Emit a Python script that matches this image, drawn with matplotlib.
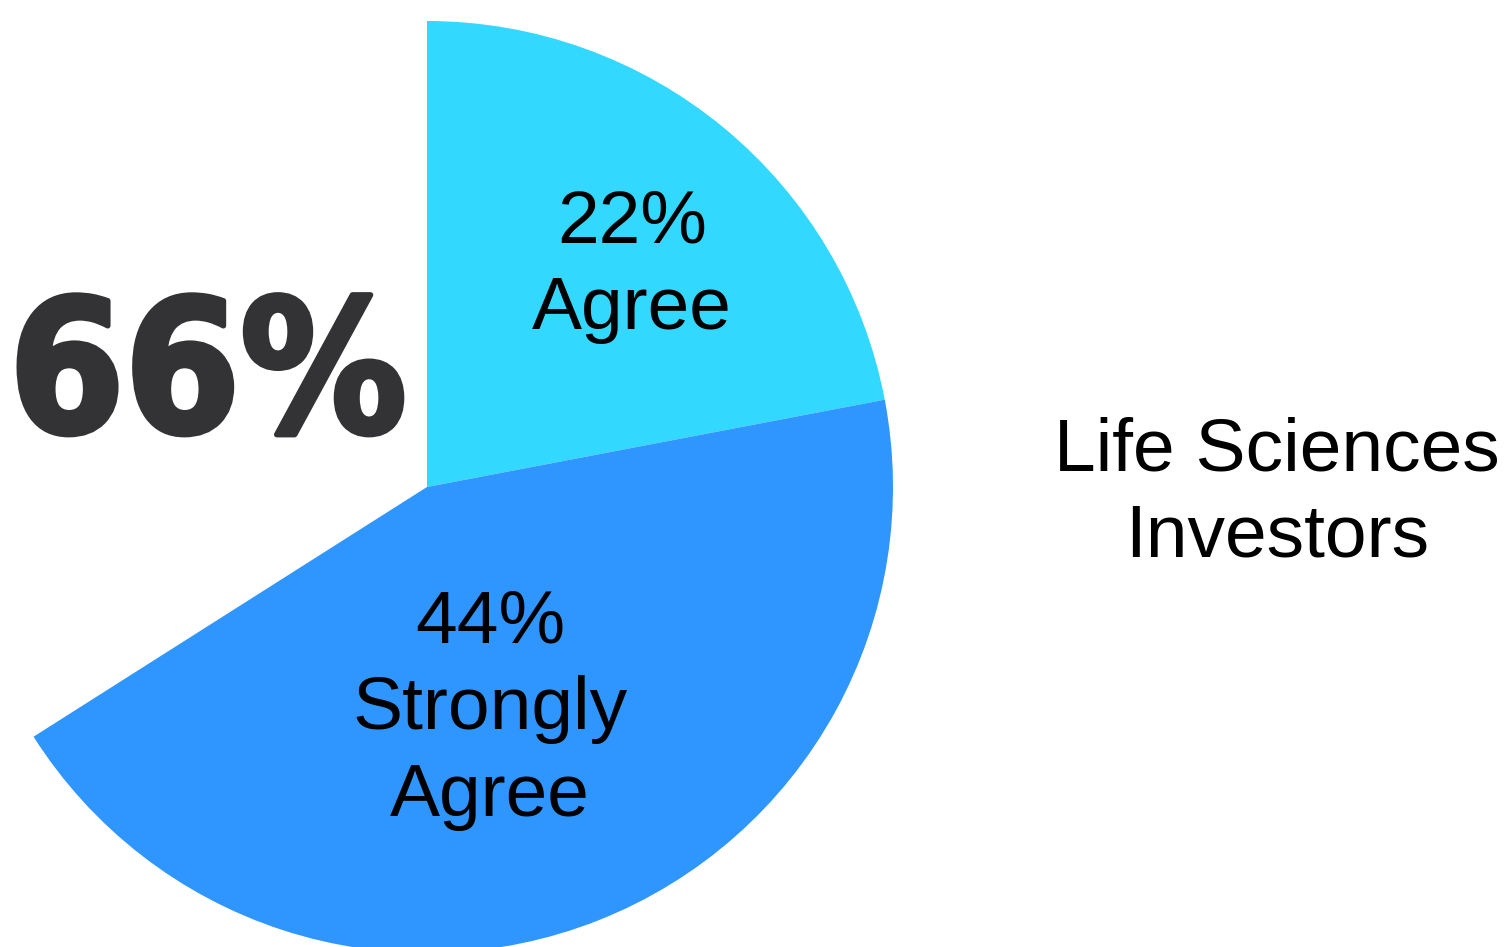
import matplotlib
matplotlib.use('Agg')
from matplotlib import pyplot as plt
import matplotlib.patheffects as pe

# survey shares, the rest of the circle is left empty
LABELS = ['Agree', 'Strongly\nAgree', '']
VALUES = [22, 44, 34]
COLORS = ['#33D8FF', '#2F96FF', 'none']
GROUP = 'Life Sciences\nInvestors'

W, H = 1505, 947

def main():
	fig = plt.figure(figsize=(W / 100, H / 100), dpi=100)
	ax = fig.add_axes([0, 0, 1, 1])

	cx, cy, r = 427, H - 487, 466
	ax.pie(VALUES, colors=COLORS, startangle=90, counterclock=False,
		center=(cx, cy), radius=r, frame=True, wedgeprops=dict(linewidth=0))
	ax.set_xlim(0, W)
	ax.set_ylim(0, H)
	ax.set_aspect('equal')
	ax.axis('off')

	font = 'Liberation Sans'
	# wedge labels
	ax.text(632, H - 266, f'{VALUES[0]}%\n{LABELS[0]}', ha='center', va='center',
		fontsize=54, family=font, linespacing=1.33)
	ax.text(490, H - 710, f'{VALUES[1]}%\n{LABELS[1]}', ha='center', va='center',
		fontsize=54, family=font, linespacing=1.33)

	# combined share, big and heavy
	total = VALUES[0] + VALUES[1]
	ax.text(9, H - 432, f'{total}%', ha='left', va='baseline', fontsize=133,
		family='DejaVu Sans', stretch='condensed', weight='bold', color='#333335',
		path_effects=[pe.withStroke(linewidth=4, foreground='#333335')])

	ax.text(1277, H - 494, GROUP, ha='center', va='center', fontsize=54,
		family=font, linespacing=1.3)

	fig.savefig('out.png', dpi=100)


if __name__ == '__main__':
	main()
